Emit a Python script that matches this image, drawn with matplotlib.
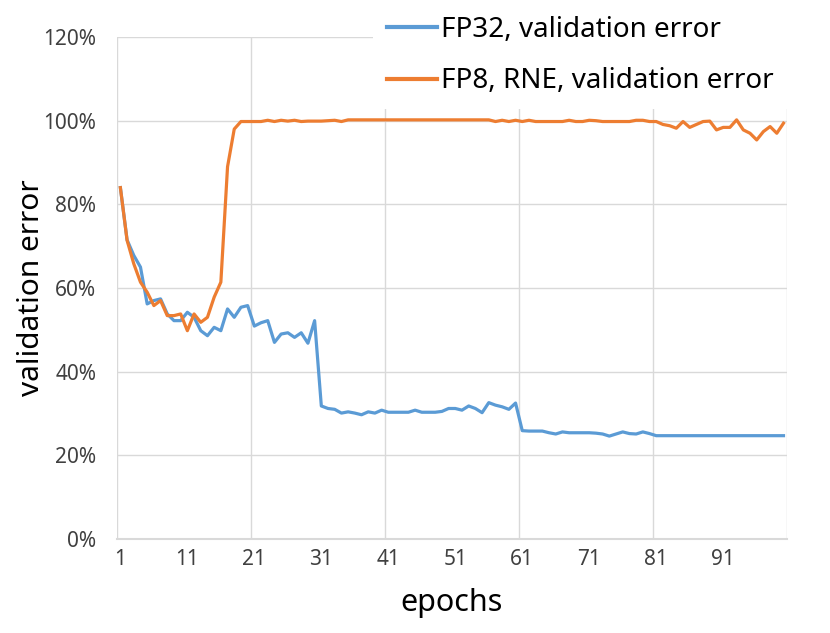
import numpy as np
import matplotlib
matplotlib.use("Agg")
import matplotlib.pyplot as plt
from matplotlib.ticker import FixedLocator, FuncFormatter

plt.rcParams["font.family"] = ["Noto Sans", "DejaVu Sans"]

# validation error (%) per epoch
fp32_err = [
    84.0, 71.5, 67.8, 65.0, 56.2, 57.0, 57.4, 53.8, 52.2, 52.2,
    54.2, 53.0, 49.8, 48.6, 50.6, 49.8, 55.0, 53.0, 55.4, 55.8,
    50.9, 51.7, 52.2, 47.0, 49.0, 49.3, 48.2, 49.3, 46.8, 52.2,
    31.8, 31.2, 31.0, 30.1, 30.4, 30.1, 29.7, 30.4, 30.1, 30.8,
    30.3, 30.3, 30.3, 30.3, 30.8, 30.3, 30.3, 30.3, 30.5, 31.2,
    31.2, 30.8, 31.8, 31.2, 30.2, 32.6, 32.0, 31.6, 31.0, 32.5,
    25.9, 25.8, 25.8, 25.8, 25.4, 25.1, 25.6, 25.4, 25.4, 25.4,
    25.4, 25.3, 25.1, 24.6, 25.1, 25.6, 25.2, 25.1, 25.6, 25.2,
    24.7, 24.7, 24.7, 24.7, 24.7, 24.7, 24.7, 24.7, 24.7, 24.7,
    24.7, 24.7, 24.7, 24.7, 24.7, 24.7, 24.7, 24.7, 24.7, 24.7,
]
fp8_err = [
    84.0, 71.4, 65.8, 61.4, 59.0, 55.8, 57.0, 53.4, 53.4, 53.8,
    49.8, 53.8, 51.8, 53.0, 57.8, 61.4, 89.0, 98.0, 99.8, 99.8,
    99.8, 99.8, 100.1, 99.8, 100.1, 99.9, 100.1, 99.8, 99.9, 99.9,
    99.9, 100.0, 100.1, 99.8, 100.2, 100.2, 100.2, 100.2, 100.2, 100.2,
    100.2, 100.2, 100.2, 100.2, 100.2, 100.2, 100.2, 100.2, 100.2, 100.2,
    100.2, 100.2, 100.2, 100.2, 100.2, 100.2, 99.8, 100.1, 99.8, 100.1,
    99.8, 100.1, 99.8, 99.8, 99.8, 99.8, 99.8, 100.1, 99.8, 99.8,
    100.1, 100.0, 99.8, 99.8, 99.8, 99.8, 99.8, 100.1, 100.1, 99.8,
    99.8, 99.1, 98.8, 98.2, 99.8, 98.4, 99.1, 99.8, 99.9, 97.8,
    98.4, 98.4, 100.2, 97.8, 97.0, 95.4, 97.4, 98.6, 97.0, 99.4,
]
epochs = np.arange(1, len(fp32_err) + 1)
x_tick_labels = [1, 11, 21, 31, 41, 51, 61, 71, 81, 91]

BLUE = "#5B9BD5"
ORANGE = "#ED7D31"
GRID = "#D9D9D9"

fig = plt.figure(figsize=(8.3, 6.33), dpi=100)
ax = fig.add_axes([0.141, 0.1485, 0.807, 0.793])

ax.plot(epochs, fp32_err, color=BLUE, lw=2.3, label="FP32, validation error",
        solid_joinstyle="round", zorder=3)
ax.plot(epochs, fp8_err, color=ORANGE, lw=2.3, label="FP8, RNE, validation error",
        solid_joinstyle="round", zorder=3)

ax.set_xlim(0.5, len(epochs) + 0.5)
ax.set_ylim(0, 120)
ax.set_yticks(np.arange(0, 121, 20))
ax.yaxis.set_major_formatter(FuncFormatter(lambda v, _: f"{v:.0f}%"))
ax.set_xticks(x_tick_labels)
ax.xaxis.set_minor_locator(FixedLocator(np.arange(0.5, len(epochs) + 1, 20)))

ax.grid(axis="y", which="major", color=GRID, lw=1.0)
ax.grid(axis="x", which="minor", color=GRID, lw=1.0)
ax.set_axisbelow(True)
for side in ("top", "right", "left"):
    ax.spines[side].set_visible(False)
ax.spines["bottom"].set_color(GRID)
ax.spines["bottom"].set_linewidth(1.5)

ax.tick_params(axis="both", which="both", length=0, labelsize=15, colors="#404040")
ax.tick_params(axis="y", pad=15)
ax.tick_params(axis="x", pad=7)

ax.set_xlabel("epochs", fontsize=22, labelpad=13)
ax.set_ylabel("validation error", fontsize=21.5, labelpad=-2)

leg = ax.legend(loc="upper left", bbox_to_anchor=(373 / 830, 1 - 2 / 633),
                bbox_transform=fig.transFigure, fontsize=20, frameon=True,
                facecolor="white", edgecolor="none", framealpha=1.0,
                fancybox=False, handlelength=1.8, handletextpad=0.15,
                labelspacing=0.85, borderpad=0.5, borderaxespad=0)
for line in leg.get_lines():
    line.set_linewidth(3)
leg.set_zorder(5)

fig.savefig("out.png", dpi=100)
